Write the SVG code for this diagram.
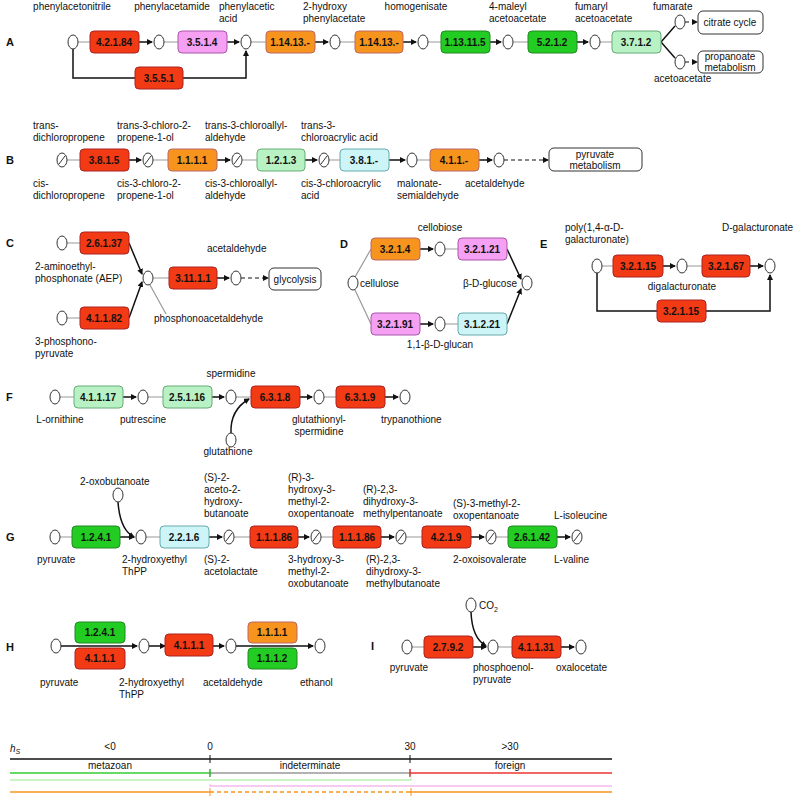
<svg xmlns="http://www.w3.org/2000/svg" width="798" height="800" viewBox="0 0 798 800">
<style>
text{font-family:"Liberation Sans",Arial,sans-serif;font-size:10px;fill:#111}
.b text{font-weight:bold;text-anchor:middle;font-size:10px}
.L{font-weight:bold;font-size:11px}
.c{text-anchor:middle}
.r{fill:#f23a14;stroke:#a22;}
.p{fill:#f6a0f3;stroke:#a5a;}
.o{fill:#f7941d;stroke:#b66;}
.g{fill:#22cc22;stroke:#282;}
.lg{fill:#b8f2c4;stroke:#6a7;}
.cy{fill:#cdf5f8;stroke:#6aa;}
rect{stroke-width:1}
.w{fill:#fff;stroke:#333}
ellipse{fill:#fff;stroke:#333;stroke-width:1}
.gl{stroke:#999;stroke-width:1.2;fill:none}
.bl{stroke:#111;stroke-width:1.5;fill:none}
.da{stroke:#111;stroke-width:1.2;fill:none;stroke-dasharray:4,3}
</style>
<defs>
<marker id="ar" markerWidth="6" markerHeight="6" refX="5" refY="3" orient="auto" markerUnits="userSpaceOnUse"><path d="M0,0L6,3L0,6z" fill="#111"/></marker>
<g id="nc"><ellipse cx="0" cy="0" rx="5" ry="7"/></g>
<g id="ns"><ellipse cx="0" cy="0" rx="5" ry="7"/><line x1="-3" y1="4" x2="3" y2="-4" stroke="#333"/></g>
</defs>

<g id="labels">
<text class="L" x="6" y="46">A</text><text class="L" x="6" y="164">B</text><text class="L" x="6" y="247">C</text>
<text class="L" x="340" y="248">D</text><text class="L" x="540" y="248">E</text><text class="L" x="6" y="401">F</text>
<text class="L" x="6" y="541">G</text><text class="L" x="6" y="651">H</text><text class="L" x="371" y="650">I</text>
</g>

<g id="connectors">
<!-- A -->
<path class="gl" d="M78,42H90M164,42H178M251,42H266M340,42H355M428,42H441M513,42H528M600,42H612"/>
<path class="bl" d="M139,42H152" marker-end="url(#ar)"/><path class="bl" d="M227,42H239" marker-end="url(#ar)"/>
<path class="bl" d="M315,42H328" marker-end="url(#ar)"/><path class="bl" d="M403,42H416" marker-end="url(#ar)"/>
<path class="bl" d="M490,42H501" marker-end="url(#ar)"/><path class="bl" d="M577,42H588" marker-end="url(#ar)"/>
<path class="bl" d="M73,49V78H135M183,78H246V51" marker-end="url(#ar)"/>
<path class="bl" d="M661,42L675,26"/><path class="bl" d="M661,42L675,58"/>
<path class="da" d="M685,22H697" marker-end="url(#ar)"/><path class="da" d="M685,62H697" marker-end="url(#ar)"/>
<!-- B -->
<path class="gl" d="M67,160H80M153,160H168M242,160H257M329,160H340M417,160H430"/>
<path class="bl" d="M129,160H141" marker-end="url(#ar)"/><path class="bl" d="M217,160H230" marker-end="url(#ar)"/>
<path class="bl" d="M305,160H317" marker-end="url(#ar)"/><path class="bl" d="M389,160H405" marker-end="url(#ar)"/>
<path class="bl" d="M479,160H492" marker-end="url(#ar)"/><path class="da" d="M504,160H548" marker-end="url(#ar)"/>
<!-- C -->
<path class="gl" d="M67,243H80M67,318H80M153,278H169"/>
<path class="bl" d="M129,243L142,274" marker-end="url(#ar)"/><path class="bl" d="M129,318L142,282" marker-end="url(#ar)"/>
<path class="gl" d="M150,285L166,314"/>
<path class="bl" d="M217,278H229" marker-end="url(#ar)"/>
<path class="da" d="M241,278H268" marker-end="url(#ar)"/>
<!-- D -->
<path class="gl" d="M355,277L371,249M355,290L371,324M445,249H458M445,324H458"/>
<path class="bl" d="M420,249H433" marker-end="url(#ar)"/><path class="bl" d="M420,324H433" marker-end="url(#ar)"/>
<path class="bl" d="M507,249L521,279" marker-end="url(#ar)"/><path class="bl" d="M507,324L521,289" marker-end="url(#ar)"/>
<!-- E -->
<path class="gl" d="M602,266H613M687,266H702"/>
<path class="bl" d="M663,266H675" marker-end="url(#ar)"/><path class="bl" d="M750,266H763" marker-end="url(#ar)"/>
<path class="bl" d="M597,273V311H657M706,311H770V275" marker-end="url(#ar)"/>
<!-- F -->
<path class="gl" d="M60,397H74M148,397H163M236,397H251M324,397H336"/>
<path class="bl" d="M123,397H136" marker-end="url(#ar)"/><path class="bl" d="M212,397H224" marker-end="url(#ar)"/>
<path class="bl" d="M300,397H312" marker-end="url(#ar)"/><path class="bl" d="M385,397H398" marker-end="url(#ar)"/>
<path class="bl" d="M231,433Q230,410 249,399" marker-end="url(#ar)"/>
<!-- G -->
<path class="gl" d="M60,537H72M146,537H160M234,537H250M321,537H333M406,537H422M496,537H508"/>
<path class="bl" d="M120,537H134" marker-end="url(#ar)"/><path class="bl" d="M118,502Q120,530 134,537" marker-end="url(#ar)"/>
<path class="bl" d="M209,537H222" marker-end="url(#ar)"/><path class="bl" d="M298,537H309" marker-end="url(#ar)"/>
<path class="bl" d="M381,537H394" marker-end="url(#ar)"/><path class="bl" d="M471,537H484" marker-end="url(#ar)"/>
<path class="bl" d="M557,537H570" marker-end="url(#ar)"/>
<!-- H -->
<path class="bl" d="M61,646H137" marker-end="url(#ar)"/><path class="bl" d="M149,646H165" marker-end="url(#ar)"/>
<path class="bl" d="M213,646H224" marker-end="url(#ar)"/><path class="bl" d="M236,646H313" marker-end="url(#ar)"/>
<!-- I -->
<path class="gl" d="M412,647H424M498,647H512"/>
<path class="bl" d="M473,647H486" marker-end="url(#ar)"/><path class="bl" d="M471,612Q472,638 486,646" marker-end="url(#ar)"/>
<path class="bl" d="M561,647H574" marker-end="url(#ar)"/>
</g>

<g id="A">
<use href="#nc" x="73" y="42"/><use href="#nc" x="159" y="42"/><use href="#nc" x="246" y="42"/><use href="#nc" x="335" y="42"/>
<use href="#nc" x="423" y="42"/><use href="#nc" x="508" y="42"/><use href="#nc" x="595" y="42"/><use href="#nc" x="680" y="22"/><use href="#nc" x="680" y="62"/>
<g class="b"><rect class="r" x="90" y="31" width="49" height="22" rx="4"/><text x="114" y="46">4.2.1.84</text>
<rect class="p" x="178" y="31" width="49" height="22" rx="4"/><text x="202" y="46">3.5.1.4</text>
<rect class="o" x="266" y="31" width="49" height="22" rx="4"/><text x="290" y="46">1.14.13.-</text>
<rect class="o" x="355" y="31" width="48" height="22" rx="4"/><text x="379" y="46">1.14.13.-</text>
<rect class="g" x="441" y="31" width="49" height="22" rx="4"/><text x="465" y="46">1.13.11.5</text>
<rect class="g" x="528" y="31" width="49" height="22" rx="4"/><text x="552" y="46">5.2.1.2</text>
<rect class="lg" x="612" y="31" width="49" height="22" rx="4"/><text x="636" y="46">3.7.1.2</text>
<rect class="r" x="135" y="67" width="48" height="22" rx="4"/><text x="159" y="82">3.5.5.1</text></g>
<rect class="w" x="698" y="11" width="65" height="23" rx="5"/><text class="c" x="730" y="26">citrate cycle</text>
<rect class="w" x="698" y="51" width="65" height="22" rx="5"/><text class="c" x="730" y="60">propanoate</text><text class="c" x="730" y="71">metabolism</text>
<text class="c" x="72" y="10">phenylacetonitrile</text><text class="c" x="172" y="10">phenylacetamide</text>
<text x="219" y="10">phenylacetic</text><text x="219" y="22">acid</text>
<text x="303" y="10">2-hydroxy</text><text x="303" y="22">phenylacetate</text>
<text class="c" x="416" y="10">homogenisate</text>
<text x="489" y="10">4-maleyl</text><text x="489" y="22">acetoacetate</text>
<text x="575" y="10">fumaryl</text><text x="575" y="22">acetoacetate</text>
<text x="653" y="10">fumarate</text><text x="654" y="82">acetoacetate</text>
</g>

<g id="B">
<use href="#ns" x="62" y="160"/><use href="#ns" x="148" y="160"/><use href="#ns" x="237" y="160"/><use href="#ns" x="324" y="160"/><use href="#nc" x="412" y="160"/><use href="#nc" x="499" y="160"/>
<g class="b"><rect class="r" x="80" y="149" width="49" height="22" rx="4"/><text x="104" y="164">3.8.1.5</text>
<rect class="o" x="168" y="149" width="49" height="22" rx="4"/><text x="192" y="164">1.1.1.1</text>
<rect class="lg" x="257" y="149" width="48" height="22" rx="4"/><text x="281" y="164">1.2.1.3</text>
<rect class="cy" x="340" y="149" width="49" height="22" rx="4"/><text x="364" y="164">3.8.1.-</text>
<rect class="o" x="430" y="149" width="49" height="22" rx="4"/><text x="454" y="164">4.1.1.-</text></g>
<rect class="w" x="549" y="148" width="93" height="23" rx="5"/><text class="c" x="595" y="158">pyruvate</text><text class="c" x="595" y="169">metabolism</text>
<text x="33" y="129">trans-</text><text x="33" y="141">dichloropropene</text>
<text x="117" y="129">trans-3-chloro-2-</text><text x="117" y="141">propene-1-ol</text>
<text x="205" y="129">trans-3-chloroallyl-</text><text x="205" y="141">aldehyde</text>
<text x="301" y="129">trans-3-</text><text x="301" y="141">chloroacrylic acid</text>
<text x="33" y="187">cis-</text><text x="33" y="199">dichloropropene</text>
<text x="117" y="187">cis-3-chloro-2-</text><text x="117" y="199">propene-1-ol</text>
<text x="205" y="187">cis-3-chloroallyl-</text><text x="205" y="199">aldehyde</text>
<text x="301" y="187">cis-3-chloroacrylic</text><text x="301" y="199">acid</text>
<text x="397" y="187">malonate-</text><text x="397" y="199">semialdehyde</text>
<text x="465" y="187">acetaldehyde</text>
</g>

<g id="C">
<use href="#nc" x="62" y="243"/><use href="#nc" x="62" y="318"/><use href="#nc" x="148" y="278"/><use href="#nc" x="236" y="278"/>
<g class="b"><rect class="r" x="80" y="232" width="49" height="22" rx="4"/><text x="104" y="247">2.6.1.37</text>
<rect class="r" x="80" y="307" width="49" height="22" rx="4"/><text x="104" y="322">4.1.1.82</text>
<rect class="r" x="169" y="267" width="48" height="22" rx="4"/><text x="193" y="282">3.11.1.1</text></g>
<rect class="w" x="269" y="268" width="52" height="22" rx="5"/><text class="c" x="295" y="283">glycolysis</text>
<text x="35" y="270">2-aminoethyl-</text><text x="35" y="282">phosphonate (AEP)</text>
<text x="35" y="345">3-phosphono-</text><text x="35" y="357">pyruvate</text>
<text x="207" y="252">acetaldehyde</text><text x="154" y="322">phosphonoacetaldehyde</text>
</g>

<g id="D">
<use href="#nc" x="353" y="283"/><use href="#nc" x="440" y="249"/><use href="#nc" x="440" y="324"/><use href="#nc" x="527" y="283"/>
<g class="b"><rect class="o" x="371" y="238" width="49" height="22" rx="4"/><text x="395" y="253">3.2.1.4</text>
<rect class="p" x="458" y="238" width="49" height="22" rx="4"/><text x="482" y="253">3.2.1.21</text>
<rect class="p" x="371" y="313" width="49" height="22" rx="4"/><text x="395" y="328">3.2.1.91</text>
<rect class="cy" x="458" y="313" width="49" height="22" rx="4"/><text x="482" y="328">3.1.2.21</text></g>
<text class="c" x="440" y="231">cellobiose</text><text x="360" y="287">cellulose</text>
<text x="517" y="287" text-anchor="end">β-D-glucose</text><text class="c" x="440" y="348">1,1-β-D-glucan</text>
</g>

<g id="E">
<use href="#nc" x="597" y="266"/><use href="#nc" x="682" y="266"/><use href="#nc" x="770" y="266"/>
<g class="b"><rect class="r" x="613" y="255" width="50" height="22" rx="4"/><text x="638" y="270">3.2.1.15</text>
<rect class="r" x="702" y="255" width="48" height="22" rx="4"/><text x="726" y="270">3.2.1.67</text>
<rect class="r" x="657" y="300" width="49" height="22" rx="4"/><text x="681" y="315">3.2.1.15</text></g>
<text x="565" y="231">poly(1,4-α-D-</text><text x="565" y="243">galacturonate)</text>
<text x="722" y="231">D-galacturonate</text><text class="c" x="682" y="290">digalacturonate</text>
</g>

<g id="F">
<use href="#nc" x="55" y="397"/><use href="#nc" x="143" y="397"/><use href="#nc" x="231" y="397"/><use href="#nc" x="319" y="397"/><use href="#nc" x="405" y="397"/><use href="#nc" x="231" y="440"/>
<g class="b"><rect class="lg" x="74" y="386" width="49" height="22" rx="4"/><text x="98" y="401">4.1.1.17</text>
<rect class="lg" x="163" y="386" width="49" height="22" rx="4"/><text x="187" y="401">2.5.1.16</text>
<rect class="r" x="251" y="386" width="49" height="22" rx="4"/><text x="275" y="401">6.3.1.8</text>
<rect class="r" x="336" y="386" width="49" height="22" rx="4"/><text x="360" y="401">6.3.1.9</text></g>
<text class="c" x="60" y="423">L-ornithine</text><text class="c" x="143" y="423">putrescine</text>
<text class="c" x="231" y="377">spermidine</text><text class="c" x="228" y="455">glutathione</text>
<text class="c" x="319" y="423">glutathionyl-</text><text class="c" x="319" y="435">spermidine</text>
<text x="381" y="423">trypanothione</text>
</g>

<g id="G">
<use href="#nc" x="55" y="537"/><use href="#nc" x="141" y="537"/><use href="#nc" x="118" y="495"/><use href="#ns" x="229" y="537"/><use href="#ns" x="316" y="537"/><use href="#ns" x="401" y="537"/><use href="#ns" x="491" y="537"/><use href="#ns" x="577" y="537"/>
<g class="b"><rect class="g" x="72" y="526" width="48" height="22" rx="4"/><text x="96" y="541">1.2.4.1</text>
<rect class="cy" x="160" y="526" width="49" height="22" rx="4"/><text x="184" y="541">2.2.1.6</text>
<rect class="r" x="250" y="526" width="48" height="22" rx="4"/><text x="274" y="541">1.1.1.86</text>
<rect class="r" x="333" y="526" width="48" height="22" rx="4"/><text x="357" y="541">1.1.1.86</text>
<rect class="r" x="422" y="526" width="49" height="22" rx="4"/><text x="446" y="541">4.2.1.9</text>
<rect class="g" x="508" y="526" width="49" height="22" rx="4"/><text x="532" y="541">2.6.1.42</text></g>
<text x="80" y="485">2-oxobutanoate</text>
<text x="204" y="481">(S)-2-</text><text x="204" y="493">aceto-2-</text><text x="204" y="505">hydroxy-</text><text x="204" y="517">butanoate</text>
<text x="288" y="481">(R)-3-</text><text x="288" y="493">hydroxy-3-</text><text x="288" y="505">methyl-2-</text><text x="288" y="517">oxopentanoate</text>
<text x="363" y="493">(R)-2,3-</text><text x="363" y="505">dihydroxy-3-</text><text x="363" y="517">methylpentanoate</text>
<text x="453" y="507">(S)-3-methyl-2-</text><text x="453" y="519">oxopentanoate</text>
<text x="554" y="519">L-isoleucine</text>
<text x="37" y="563">pyruvate</text>
<text x="122" y="563">2-hydroxyethyl</text><text x="122" y="575">ThPP</text>
<text x="204" y="563">(S)-2-</text><text x="204" y="575">acetolactate</text>
<text x="288" y="563">3-hydroxy-3-</text><text x="288" y="575">methyl-2-</text><text x="288" y="587">oxobutanoate</text>
<text x="366" y="563">(R)-2,3-</text><text x="366" y="575">dihydroxy-3-</text><text x="366" y="587">methylbutanoate</text>
<text x="453" y="563">2-oxoisovalerate</text><text x="554" y="563">L-valine</text>
</g>

<g id="H">
<use href="#nc" x="56" y="646"/><use href="#nc" x="144" y="646"/><use href="#nc" x="231" y="646"/><use href="#nc" x="320" y="646"/>
<g class="b"><rect class="g" x="75" y="622" width="50" height="21" rx="4"/><text x="100" y="636">1.2.4.1</text>
<rect class="r" x="75" y="648" width="50" height="21" rx="4"/><text x="100" y="662">4.1.1.1</text>
<rect class="r" x="165" y="634" width="48" height="22" rx="4"/><text x="189" y="649">4.1.1.1</text>
<rect class="o" x="248" y="622" width="49" height="21" rx="4"/><text x="272" y="636">1.1.1.1</text>
<rect class="g" x="248" y="648" width="49" height="21" rx="4"/><text x="272" y="662">1.1.1.2</text></g>
<text x="40" y="686">pyruvate</text><text x="119" y="686">2-hydroxyethyl</text><text x="119" y="698">ThPP</text>
<text x="203" y="686">acetaldehyde</text><text x="300" y="686">ethanol</text>
</g>

<g id="I">
<use href="#nc" x="407" y="647"/><use href="#nc" x="471" y="605"/><use href="#nc" x="493" y="647"/><use href="#nc" x="581" y="647"/>
<g class="b"><rect class="r" x="424" y="636" width="49" height="22" rx="4"/><text x="448" y="651">2.7.9.2</text>
<rect class="r" x="512" y="636" width="49" height="22" rx="4"/><text x="536" y="651">4.1.1.31</text></g>
<text x="479" y="609">CO<tspan font-size="7" dy="3">2</tspan></text>
<text class="c" x="409" y="671">pyruvate</text>
<text x="473" y="671">phosphoenol-</text><text x="473" y="683">pyruvate</text><text x="556" y="671">oxalocetate</text>
</g>

<g id="legend">
<text x="10" y="752" font-style="italic">h<tspan font-size="7" dy="2">S</tspan></text>
<text class="c" x="110" y="750">&lt;0</text><text class="c" x="210" y="750">0</text><text class="c" x="410" y="750">30</text><text class="c" x="510" y="750">&gt;30</text>
<line x1="10" y1="759" x2="612" y2="759" stroke="#111" stroke-width="1.5"/>
<line x1="210" y1="755" x2="210" y2="763" stroke="#111"/><line x1="410" y1="755" x2="410" y2="763" stroke="#111"/>
<text class="c" x="110" y="769" font-size="9">metazoan</text><text class="c" x="310" y="769" font-size="9">indeterminate</text><text class="c" x="510" y="769" font-size="9">foreign</text>
<line x1="10" y1="773" x2="210" y2="773" stroke="#3c3" stroke-width="1.5"/>
<line x1="210" y1="773" x2="410" y2="773" stroke="#999" stroke-width="1.5"/>
<line x1="410" y1="773" x2="612" y2="773" stroke="#e33" stroke-width="1.5"/>
<line x1="210" y1="769" x2="210" y2="777" stroke="#3a3" stroke-width="1.5"/><line x1="410" y1="769" x2="410" y2="777" stroke="#c33" stroke-width="1.5"/>
<line x1="10" y1="780" x2="411" y2="780" stroke="#b8f0b0" stroke-width="1.5"/>
<line x1="411" y1="776" x2="411" y2="781" stroke="#b8f0b0"/>
<line x1="210" y1="786" x2="612" y2="786" stroke="#f5b8f0" stroke-width="1.5"/>
<line x1="210" y1="784" x2="210" y2="787" stroke="#f5b8f0"/>
<line x1="10" y1="792" x2="210" y2="792" stroke="#f7941d" stroke-width="1.5"/>
<line x1="210" y1="792" x2="410" y2="792" stroke="#f7941d" stroke-width="1.5" stroke-dasharray="4,3"/>
<line x1="410" y1="792" x2="612" y2="792" stroke="#f7941d" stroke-width="1.5"/>
<line x1="210" y1="788" x2="210" y2="796" stroke="#f7941d"/><line x1="411" y1="788" x2="411" y2="796" stroke="#f7941d"/>
</g>
</svg>
